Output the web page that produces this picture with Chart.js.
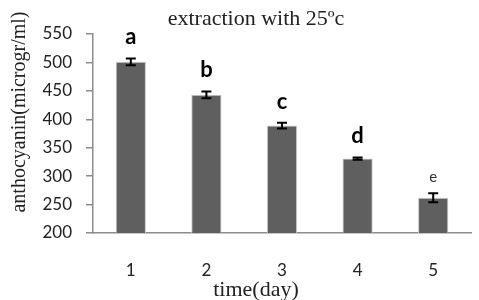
<!DOCTYPE html>
<html>
<head>
<meta charset="utf-8">
<script src="https://cdn.jsdelivr.net/npm/chart.js@4"></script>
<style>
  html, body { margin: 0; padding: 0; background: #fff; }
  #wrap { width: 479px; height: 300px; }
</style>
</head>
<body>
<div id="wrap"><canvas id="barChart" width="479" height="300"></canvas></div>
<script>
const days = ['1', '2', '3', '4', '5'];
const anthocyanin = [501, 443, 389, 331, 262];
const errors = [6, 6, 5, 2, 8];
const groupLetters = ['a', 'b', 'c', 'd', 'e'];
const yTicks = [200, 250, 300, 350, 400, 450, 500, 550];

const titleText = 'extraction with 25\u00bac';
const yTitle = 'anthocyanin(microgr/ml)';
const xTitle = 'time(day)';

// error bars + letters + titles, all drawn from the scales
const annotate = {
  id: 'annotate',
  afterDatasetsDraw(chart) {
    const ctx = chart.ctx;
    const y = chart.scales.y;
    const meta = chart.getDatasetMeta(0);
    ctx.save();
    ctx.strokeStyle = '#000';
    ctx.lineWidth = 2;
    meta.data.forEach((bar, i) => {
      const top = y.getPixelForValue(anthocyanin[i] + errors[i]);
      const bot = y.getPixelForValue(anthocyanin[i] - errors[i]);
      ctx.beginPath();
      ctx.moveTo(bar.x, top); ctx.lineTo(bar.x, bot);
      ctx.moveTo(bar.x - 5, top); ctx.lineTo(bar.x + 5, top);
      ctx.moveTo(bar.x - 5, bot); ctx.lineTo(bar.x + 5, bot);
      ctx.stroke();

      const last = i === groupLetters.length - 1;
      ctx.fillStyle = last ? '#333' : '#000';
      ctx.font = last ? '15px Lato' : 'bold 22px Lato';
      ctx.textAlign = 'center';
      ctx.textBaseline = 'alphabetic';
      ctx.fillText(groupLetters[i], bar.x, top - (last ? 11 : 14));
    });

    ctx.fillStyle = '#222';
    ctx.textAlign = 'center';
    ctx.textBaseline = 'middle';
    ctx.font = '22px "Liberation Serif"';
    ctx.fillText(titleText, 256, 19);
    ctx.fillText(xTitle, 256, 290);
    ctx.font = '20px "Liberation Serif"';
    ctx.translate(20, 112);
    ctx.rotate(-Math.PI / 2);
    ctx.fillText(yTitle, 0, 0);
    ctx.restore();
  }
};

const chart = new Chart(document.getElementById('barChart'), {
  type: 'bar',
  data: {
    labels: days,
    datasets: [{
      data: anthocyanin,
      backgroundColor: '#5f5f5f',
      borderColor: '#c8c8c8',
      borderWidth: 1,
      barPercentage: 0.4,
      categoryPercentage: 1
    }]
  },
  options: {
    responsive: false,
    animation: false,
    layout: { padding: { top: 34, right: 8, left: 0, bottom: 0 } },
    plugins: {
      legend: { display: false },
      tooltip: { enabled: false }
    },
    scales: {
      x: {
        grid: { display: false },
        border: { color: '#8c8c8c', width: 1.5 },
        ticks: { color: '#222', font: { family: 'Lato', size: 17 }, padding: 19 },
        afterFit: s => { s.height = 67; }
      },
      y: {
        min: 200,
        max: 550,
        afterBuildTicks: s => { s.ticks = yTicks.map(v => ({ value: v })); },
        grid: { drawOnChartArea: false, drawTicks: true, tickLength: 7, color: '#8c8c8c', lineWidth: 1.5 },
        border: { color: '#8c8c8c', width: 1.5 },
        ticks: { color: '#222', font: { family: 'Lato', size: 17 }, padding: 14 },
        afterFit: s => { s.width = 93; }
      }
    }
  },
  plugins: [annotate]
});
</script>
</body>
</html>
